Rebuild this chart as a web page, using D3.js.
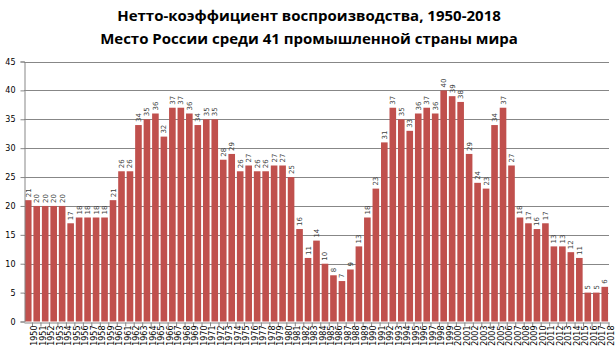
<!DOCTYPE html>
<html>
<head>
<meta charset="utf-8">
<script src="https://cdn.jsdelivr.net/npm/d3@7"></script>
<style>
  body { margin: 0; background: #fff; }
  svg { display: block; }
</style>
</head>
<body>
<div id="container"></div>
<script>
const width = 616, height = 352;
const margin = { top: 61.5, right: 7, bottom: 30.5, left: 24 };

// years 1950..2018
const years = d3.range(1950, 2019).map(String);
const ranks = [
  21, 20, 20, 20, 20, 17, 18, 18, 18, 18, 21, 26, 26, 34, 35, 36, 32,
  37, 37, 36, 34, 35, 35, 28, 29, 26, 27, 26, 26, 27, 27, 25, 16, 11,
  14, 10, 8, 7, 9, 13, 18, 23, 31, 37, 35, 33, 36, 37, 36, 40, 39, 38,
  29, 24, 23, 34, 37, 27, 18, 17, 16, 17, 13, 13, 12, 11, 5, 5, 6
];
const yTicks = [0, 5, 10, 15, 20, 25, 30, 35, 40, 45];
const titleLines = [
  "Нетто-коэффициент воспроизводства, 1950-2018",
  "Место России среди 41 промышленной страны мира"
];

const data = years.map((y, i) => ({ year: y, value: ranks[i] }));

const svg = d3.select("#container").append("svg")
  .attr("width", width)
  .attr("height", height);

const x = d3.scaleBand()
  .domain(years)
  .range([margin.left, width - margin.right])
  .paddingInner(0.22)
  .paddingOuter(0.11);

const y = d3.scaleLinear()
  .domain([0, 45])
  .range([height - margin.bottom, margin.top]);

// gridlines
svg.append("g")
  .selectAll("line")
  .data(yTicks.slice(1))
  .join("line")
  .attr("x1", margin.left)
  .attr("x2", width - margin.right)
  .attr("y1", d => Math.round(y(d)) + 0.5)
  .attr("y2", d => Math.round(y(d)) + 0.5)
  .attr("stroke", "#878787")
  .attr("stroke-width", 1);

// bars
svg.selectAll("rect.bar")
  .data(data)
  .join("rect")
  .attr("class", "bar")
  .attr("x", d => x(d.year))
  .attr("y", d => y(d.value))
  .attr("width", x.bandwidth())
  .attr("height", d => y(0) - y(d.value))
  .attr("fill", "#C0504D");

// value labels
svg.selectAll("text.dataLabel")
  .data(data)
  .join("text")
  .attr("class", "dataLabel")
  .attr("transform", d => `translate(${x(d.year) + x.bandwidth() / 2 + 2.5},${y(d.value) - 3}) rotate(-90)`)
  .attr("font-family", "DejaVu Sans, Verdana, sans-serif")
  .attr("font-size", "7px")
  .attr("fill", "#404040")
  .attr("text-anchor", "start")
  .text(d => d.value);

// y axis
const yAxis = d3.axisLeft(y).tickValues(yTicks).tickSize(4).tickPadding(5);
const gy = svg.append("g")
  .attr("transform", `translate(${margin.left + 0.5},0)`)
  .call(yAxis);
gy.select(".domain").attr("stroke", "#878787");
gy.selectAll(".tick line").attr("stroke", "#878787");
gy.selectAll(".tick text")
  .attr("font-family", "DejaVu Sans, Verdana, sans-serif")
  .attr("font-size", "8px")
  .attr("fill", "#000");

// x axis
const xAxis = d3.axisBottom(x).tickSize(4).tickPadding(2).tickSizeOuter(0);
const gx = svg.append("g")
  .attr("transform", `translate(0,${Math.round(y(0)) + 0.5})`)
  .call(xAxis);
gx.select(".domain").attr("stroke", "#878787");
gx.selectAll(".tick line")
  .attr("stroke", "#878787")
  .attr("transform", `translate(${x.step() / 2},0)`);
gx.selectAll(".tick text")
  .attr("font-family", "DejaVu Sans, Verdana, sans-serif")
  .attr("font-size", "8px")
  .attr("fill", "#000")
  .attr("text-anchor", "end")
  .attr("dy", null)
  .attr("transform", "translate(3,3) rotate(-90)");

// title
svg.append("g")
  .selectAll("text")
  .data(titleLines)
  .join("text")
  .attr("x", 309)
  .attr("y", (d, i) => 21 + i * 23)
  .attr("text-anchor", "middle")
  .attr("font-family", "Open Sans, Liberation Sans, sans-serif")
  .attr("font-weight", "bold")
  .attr("font-size", "15px")
  .attr("fill", "#000")
  .text(d => d);
</script>
</body>
</html>
